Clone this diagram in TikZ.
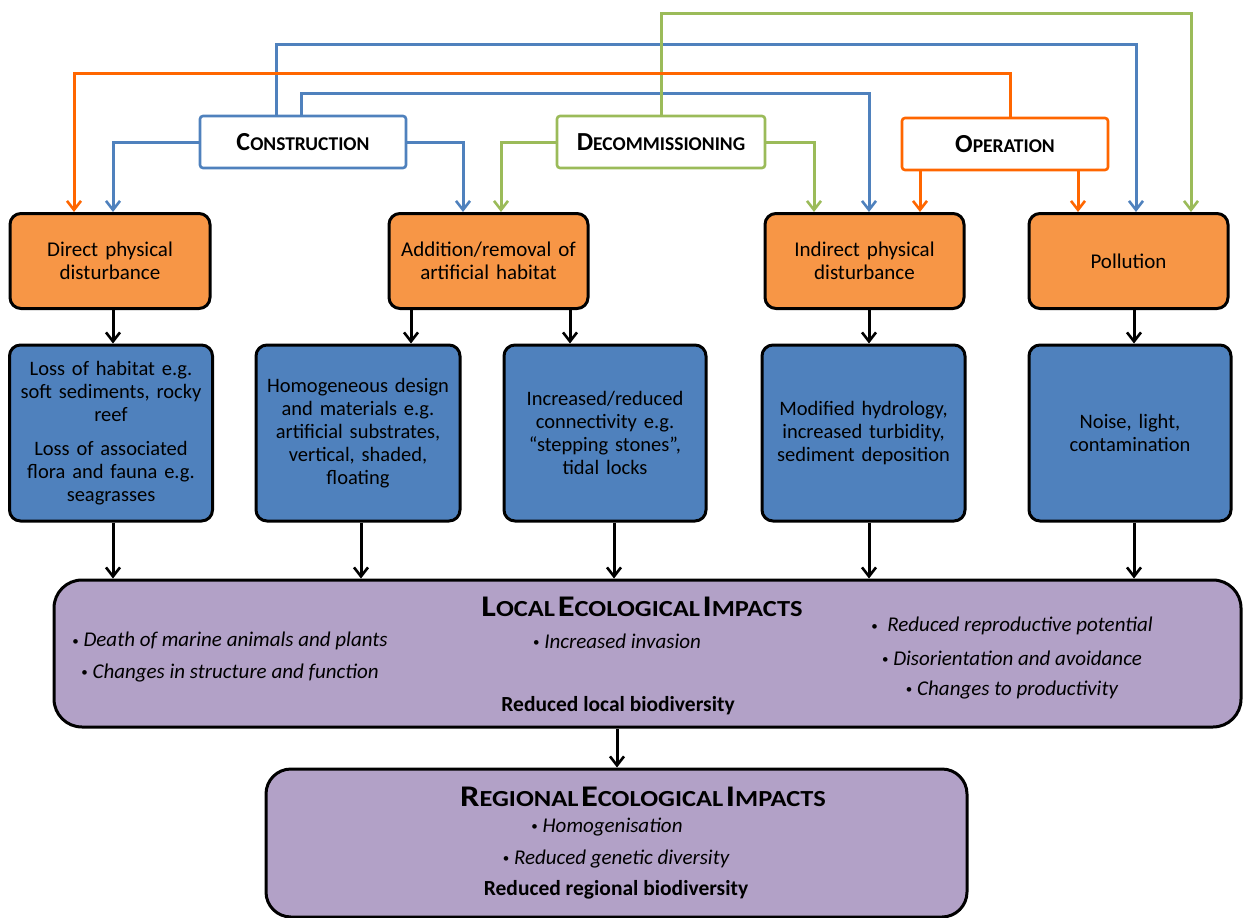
\documentclass[tikz,border=0pt]{standalone}
\usepackage{fontspec}
\setmainfont{Carlito}
\usetikzlibrary{arrows.meta,calc}
\definecolor{lblue}{RGB}{79,129,189}
\definecolor{lgreen}{RGB}{155,187,89}
\definecolor{lorange}{RGB}{255,102,0}
\definecolor{forange}{RGB}{247,150,70}
\definecolor{fpurple}{RGB}{178,161,199}
\newcommand\SCp[2]{{\bfseries\fontsize{26}{30}\selectfont #1\fontsize{19.5}{23}\selectfont #2}}
\newcommand\SCh[2]{{\bfseries\fontsize{30}{34}\selectfont #1\fontsize{23}{27}\selectfont #2}}
\newcommand\bul{{\upshape\fontsize{13}{13}\selectfont\raisebox{1.5pt}{\textbullet}}}
\tikzset{
  phase/.style={draw, line width=2.6pt, fill=white, rounded corners=3pt, minimum height=52pt, inner sep=0pt},
  ibox/.style={draw=black, line width=3pt, fill=forange, rounded corners=11pt, minimum height=95pt, minimum width=199pt, inner sep=0pt, text width=196pt, align=center, font=\fontsize{21}{23}\selectfont},
  ebox/.style={draw=black, line width=3pt, fill=lblue, rounded corners=11pt, minimum height=176pt, minimum width=203pt, inner sep=0pt, text width=200pt, align=center, font=\fontsize{20.5}{23}\selectfont},
  bigbox/.style={draw=black, line width=3pt, fill=fpurple, rounded corners=28pt, inner sep=0pt},
  link/.style={line width=3pt, -{Straight Barb[length=9pt,width=14pt,line width=2.6pt]}},
  blk/.style={link, draw=black},
  itx/.style={font=\fontsize{21}{25}\selectfont\itshape, inner sep=0pt},
  btx/.style={font=\fontsize{21.5}{25}\selectfont\bfseries, inner sep=0pt}
}
\begin{document}
\begin{tikzpicture}[x=1pt,y=-1pt]
\useasboundingbox (0,0) rectangle (1243,918);
% lanes
\coordinate (x74) at (74,0);
\coordinate (x113) at (113,0);
\coordinate (x276) at (276,0);
\coordinate (x301) at (301,0);
\coordinate (x361) at (361,0);
\coordinate (x411) at (411,0);
\coordinate (x463) at (463,0);
\coordinate (x501) at (501,0);
\coordinate (x570) at (570,0);
\coordinate (x614) at (614,0);
\coordinate (x617) at (617,0);
\coordinate (x661) at (661,0);
\coordinate (x814) at (814,0);
\coordinate (x869) at (869,0);
\coordinate (x920) at (920,0);
\coordinate (x1010) at (1010,0);
\coordinate (x1078) at (1078,0);
\coordinate (x1134) at (1134,0);
\coordinate (x1136) at (1136,0);
\coordinate (x1191) at (1191,0);
\coordinate (y13) at (0,13);
\coordinate (y44) at (0,44);
\coordinate (y73) at (0,73);
\coordinate (y93) at (0,93);

% top phase boxes
\node[phase, draw=lblue, minimum width=206pt] (con) at (303,142) {\SCp{C}{ONSTRUCTION}};
\node[phase, draw=lgreen, minimum width=208pt] (dec) at (661,142) {\SCp{D}{ECOMMISSIONING}};
\node[phase, draw=lorange, minimum width=206pt] (op) at (1005,144) {\SCp{O}{PERATION}};

% impact type boxes
\node[ibox, minimum width=200pt] (dpd) at (110,261) {Direct physical\\disturbance};
\node[ibox] (arh) at (488.5,261) {Addition/removal of\\artificial habitat};
\node[ibox] (ipd) at (864.5,261) {Indirect physical\\disturbance};
\node[ibox] (pol) at (1128.5,261) {Pollution};

% effect boxes
\node[ebox] (b1) at (111,433) {Loss of habitat e.g.\\soft sediments, rocky\\reef\\[11pt]Loss of associated\\flora and fauna e.g.\\seagrasses};
\node[ebox, minimum width=204pt] (b2) at (358,433) {Homogeneous design\\and materials e.g.\\artificial substrates,\\vertical, shaded,\\floating};
\node[ebox, minimum width=202pt] (b3) at (605,433) {Increased/reduced\\connectivity e.g.\\\textquotedblleft stepping stones\textquotedblright,\\tidal locks};
\node[ebox] (b4) at (863.5,433) {Modified hydrology,\\increased turbidity,\\sediment deposition};
\node[ebox, minimum width=202pt] (b5) at (1130,433) {Noise, light,\\contamination};

% local / regional
\node[bigbox, minimum width=1187pt, minimum height=147pt] (loc) at (647.5,653.5) {};
\node[bigbox, rounded corners=25pt, minimum width=701pt, minimum height=148pt] (reg) at (616.5,843) {};

\node[inner sep=0pt] (loch) at (642,607) {\scalebox{1.15}[1]{\SCh{L}{OCAL} \SCh{E}{COLOGICAL} \SCh{I}{MPACTS}}};
\node[itx] (l1) at (230,641) {\bul\ Death of marine animals and plants};
\node[itx] (l2) at (230,673) {\bul\ Changes in structure and function};
\node[itx] (l3) at (617,641) {\bul\ Increased invasion};
\node[itx] (l4) at (1012,626) {\bul\ \ Reduced reproductive potential};
\node[itx] (l5) at (1012,658) {\bul\ Disorientation and avoidance};
\node[itx] (l6) at (1012,690) {\bul\ Changes to productivity};
\node[btx] (l7) at (618,706) {Reduced local biodiversity};

\node[inner sep=0pt] (regh) at (643,797) {\scalebox{1.15}[1]{\SCh{R}{EGIONAL} \SCh{E}{COLOGICAL} \SCh{I}{MPACTS}}};
\node[itx] (r1) at (607,827) {\bul\ Homogenisation};
\node[itx] (r2) at (616,859) {\bul\ Reduced genetic diversity};
\node[btx] (r3) at (616,890) {Reduced regional biodiversity};

% construction links (blue)
\draw[link, draw=lblue] (con.west) -| (dpd.north -| x113);
\draw[link, draw=lblue] (con.east) -| (arh.north -| x463);
\draw[link, draw=lblue] (con.north -| x301) -- (x301 |- y93) -- (x869 |- y93) -- (ipd.north -| x869);
\draw[link, draw=lblue] (con.north -| x276) -- (x276 |- y44) -- (x1136 |- y44) -- (pol.north -| x1136);
% decommissioning links (green)
\draw[link, draw=lgreen] (dec.west) -| (arh.north -| x501);
\draw[link, draw=lgreen] (dec.east) -| (ipd.north -| x814);
\draw[link, draw=lgreen] (dec.north -| x661) -- (x661 |- y13) -- (x1191 |- y13) -- (pol.north -| x1191);
% operation links (orange)
\draw[link, draw=lorange] (op.south -| x920) -- (ipd.north -| x920);
\draw[link, draw=lorange] (op.south -| x1078) -- (pol.north -| x1078);
\draw[link, draw=lorange] (op.north -| x1010) -- (x1010 |- y73) -- (x74 |- y73) -- (dpd.north -| x74);

% black links
\draw[blk] (dpd.south -| x113) -- (b1.north -| x113);
\draw[blk] (arh.south -| x411) -- (b2.north -| x411);
\draw[blk] (arh.south -| x570) -- (b3.north -| x570);
\draw[blk] (ipd.south -| x869) -- (b4.north -| x869);
\draw[blk] (pol.south -| x1134) -- (b5.north -| x1134);
\draw[blk] (b1.south -| x113) -- (loc.north -| x113);
\draw[blk] (b2.south -| x361) -- (loc.north -| x361);
\draw[blk] (b3.south -| x614) -- (loc.north -| x614);
\draw[blk] (b4.south -| x869) -- (loc.north -| x869);
\draw[blk] (b5.south -| x1134) -- (loc.north -| x1134);
\draw[blk] (loc.south -| x617) -- (reg.north -| x617);
\end{tikzpicture}
\end{document}
